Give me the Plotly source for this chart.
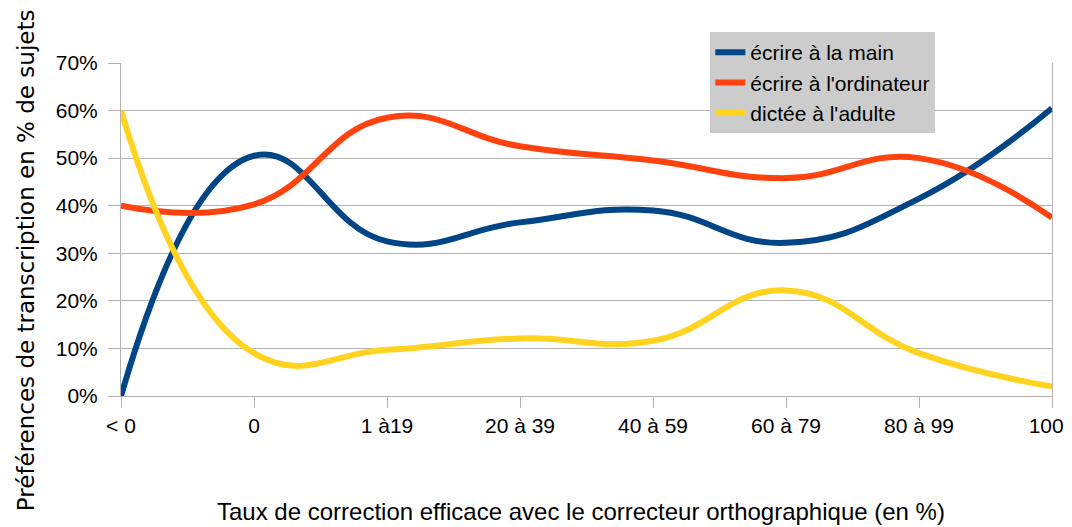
import plotly.graph_objects as go

categories = ["< 0", "0", "1 à19", "20 à 39", "40 à 59", "60 à 79", "80 à 99", "100"]
tick_labels = ["< 0", "0", "1 à19", "20 à 39", "40 à 59", "60 à 79", "80 à 99", "100\u00a0\u00a0"]
main = [0.0, 0.505, 0.325, 0.365, 0.39, 0.322, 0.415, 0.605]
ordinateur = [0.40, 0.403, 0.585, 0.525, 0.495, 0.458, 0.50, 0.375]
adulte = [0.60, 0.09, 0.097, 0.121, 0.116, 0.222, 0.09, 0.02]
yticks = [0, 0.1, 0.2, 0.3, 0.4, 0.5, 0.6, 0.7]
ytext = ["0%", "10%", "20%", "30%", "40%", "50%", "60%", "70%"]

series = [
    ("écrire à la main", main, "#004586"),
    ("écrire à l'ordinateur", ordinateur, "#ff420e"),
    ("dictée à l'adulte", adulte, "#ffd320"),
]

fig = go.Figure()
for name, vals, col in series:
    fig.add_trace(go.Scatter(
        x=categories, y=vals, name=name, mode="lines",
        line=dict(color=col, width=6, shape="spline", smoothing=1.3),
    ))

grid = "#b3b3b3"
fig.update_layout(
    width=1064, height=519,
    margin=dict(l=113, r=20, t=55, b=131, autoexpand=False),
    plot_bgcolor="white", paper_bgcolor="white",
    font=dict(family="Liberation Sans, Arial, sans-serif", size=21, color="#000000"),
    showlegend=True,
    legend=dict(
        x=0.633, y=1.093, xanchor="left", yanchor="top",
        bgcolor="#cccccc", font=dict(size=21),
        itemwidth=30, tracegroupgap=0,
    ),
)
fig.update_xaxes(
    type="category", range=[0, 7], automargin=False,
    tickmode="array", tickvals=categories, ticktext=tick_labels,
    showgrid=False, showline=True, linecolor=grid, linewidth=1,
    ticks="outside", ticklen=11, tickcolor=grid,
    tickfont=dict(size=21), zeroline=False,
)
fig.update_yaxes(
    range=[0, 0.7], tickvals=yticks, ticktext=ytext, automargin=False,
    showgrid=True, gridcolor=grid, gridwidth=1,
    showline=True, linecolor=grid, linewidth=1, mirror=True,
    ticks="outside", ticklen=12, tickcolor=grid, ticklabelstandoff=6,
    tickfont=dict(size=21), zeroline=False,
)
fig.add_annotation(
    text="Préférences de transcription en % de sujets",
    xref="paper", yref="paper", x=-0.102, y=0.408, textangle=-90,
    showarrow=False, xanchor="center", yanchor="middle",
    font=dict(family="DejaVu Sans, sans-serif", size=23),
)
fig.add_annotation(
    text="Taux de correction efficace avec le correcteur orthographique (en %)",
    xref="paper", yref="paper", x=0.494, y=-0.348,
    showarrow=False, xanchor="center", yanchor="middle",
    font=dict(size=24),
)
fig.write_html("out.html")
